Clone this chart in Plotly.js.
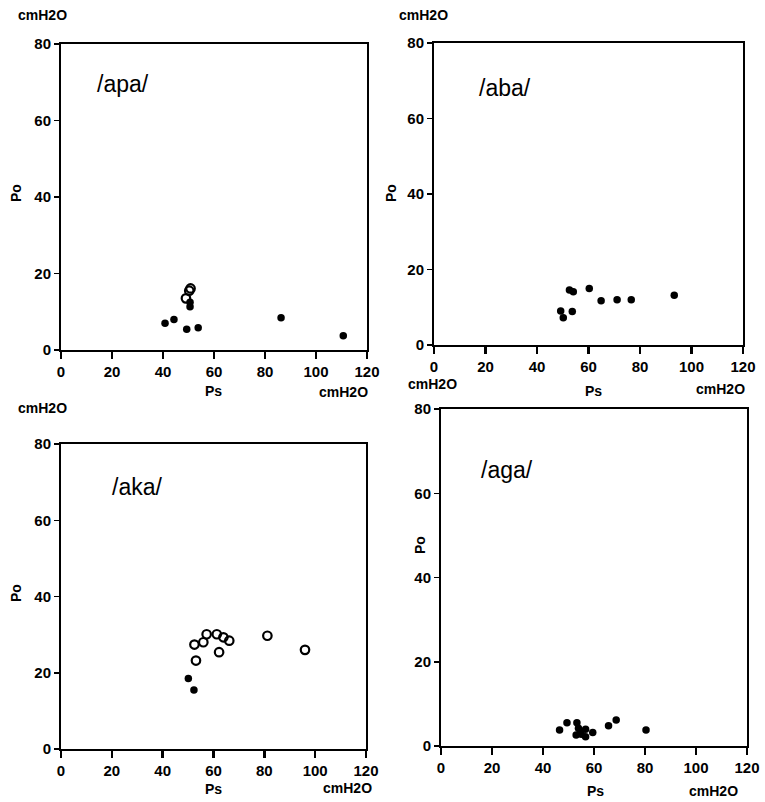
<!DOCTYPE html>
<html>
<head>
<meta charset="utf-8">
<script src="https://cdn.plot.ly/plotly-3.0.1.min.js"></script>
<style>html,body{margin:0;padding:0;background:#fff;}#chart{width:765px;height:802px;}</style>
</head>
<body>
<div id="chart"></div>
<script>
// ---- Data (Ps, Po in cmH2O) ----
var apaFilledPs = [40.8, 44.3, 49.3, 53.8, 86.3, 110.7, 50.6, 50.6];
var apaFilledPo = [7.0, 8.0, 5.4, 5.8, 8.4, 3.7, 12.5, 11.3];
var apaOpenPs = [50.8, 50.3, 49.0];
var apaOpenPo = [16.1, 15.5, 13.5];

var abaFilledPs = [52.6, 54.1, 60.3, 64.9, 71.1, 76.6, 93.3, 49.2, 50.2, 53.7];
var abaFilledPo = [14.6, 14.1, 15.0, 11.7, 12.0, 12.0, 13.2, 9.0, 7.2, 8.9];

var akaFilledPs = [50.1, 52.3];
var akaFilledPo = [18.5, 15.5];
var akaOpenPs = [53.1, 52.5, 56.0, 57.3, 61.3, 63.9, 66.2, 62.2, 81.2, 96.0];
var akaOpenPo = [23.2, 27.4, 28.0, 30.1, 30.1, 29.3, 28.4, 25.4, 29.7, 26.0];

var agaFilledPs = [46.5, 49.4, 53.3, 53.9, 53.0, 54.7, 56.7, 56.7, 55.0, 59.5, 65.7, 68.7, 80.4];
var agaFilledPo = [3.8, 5.5, 5.5, 4.2, 2.6, 3.4, 4.0, 2.2, 2.8, 3.2, 4.8, 6.2, 3.8];

var panelLabels = ['/apa/', '/aba/', '/aka/', '/aga/'];
var xTickVals = [0, 20, 40, 60, 80, 100, 120];
var yTickVals = [0, 20, 40, 60, 80];
var unitLabel = 'cmH2O';
var xName = 'Ps';
var yName = 'Po';

// ---- Layout helpers ----
var W = 765, H = 802;
function px(x) { return x / W; }
function py(y) { return 1 - y / H; }

// panel boxes in pixels: left, right, top, bottom
var boxes = [
  {l: 61, r: 367, t: 44, b: 350},
  {l: 434, r: 743, t: 43, b: 345},
  {l: 61, r: 366, t: 444, b: 749},
  {l: 441, r: 747, t: 409, b: 746}
];

var filledMarker = {symbol: 'circle', size: 7.5, color: '#000', line: {width: 0}};
var openMarker = {symbol: 'circle-open', size: 8.5, color: '#000', line: {width: 2.2, color: '#000'}};

function tr(xs, ys, i, m) {
  var s = i === 0 ? '' : String(i + 1);
  return {x: xs, y: ys, xaxis: 'x' + s, yaxis: 'y' + s, type: 'scatter', mode: 'markers', marker: m, hoverinfo: 'x+y', showlegend: false, cliponaxis: false};
}

var data = [
  tr(apaFilledPs, apaFilledPo, 0, filledMarker),
  tr(apaOpenPs, apaOpenPo, 0, openMarker),
  tr(abaFilledPs, abaFilledPo, 1, filledMarker),
  tr(akaFilledPs, akaFilledPo, 2, filledMarker),
  tr(akaOpenPs, akaOpenPo, 2, openMarker),
  tr(agaFilledPs, agaFilledPo, 3, filledMarker)
];

var tickFont = {family: 'Liberation Sans, Arial, sans-serif', size: 15, color: '#000', weight: 'bold'};

var layout = {
  width: W, height: H,
  margin: {l: 0, r: 0, t: 0, b: 0},
  paper_bgcolor: '#fff', plot_bgcolor: '#fff',
  showlegend: false,
  annotations: []
};

boxes.forEach(function (b, i) {
  var s = i === 0 ? '' : String(i + 1);
  layout['xaxis' + s] = {
    domain: [px(b.l), px(b.r)], anchor: 'y' + s,
    range: [0, 120], tickvals: xTickVals, ticktext: xTickVals.map(String),
    showgrid: false, zeroline: false, showline: true, linewidth: 2, linecolor: '#000', mirror: true,
    ticks: 'outside', ticklen: 7, tickwidth: 2.5, tickcolor: '#000',
    tickfont: tickFont, fixedrange: true
  };
  layout['yaxis' + s] = {
    domain: [py(b.b), py(b.t)], anchor: 'x' + s,
    range: [0, 80], tickvals: yTickVals, ticktext: yTickVals.map(String),
    showgrid: false, zeroline: false, showline: true, linewidth: 2, linecolor: '#000', mirror: true,
    ticks: 'outside', ticklen: 5, tickwidth: 1.5, tickcolor: '#000',
    tickfont: tickFont, fixedrange: true
  };
});

var txtFont = {family: 'Liberation Sans, Arial, sans-serif', size: 14, color: '#000', weight: 'bold'};
var lblFont = {family: 'Liberation Sans, Arial, sans-serif', size: 23, color: '#000'};

// text positions in pixels
var textPos = [
  {unitTop: [42, 15], po: [16, 193], ps: [213, 391], unitBot: [343, 392], lbl: [123, 84]},
  {unitTop: [423, 15], po: [391, 193], ps: [593, 391], unitBot: [720, 389], lbl: [505, 88]},
  {unitTop: [42, 408], po: [16, 593], ps: [213, 789], unitBot: [347, 788], lbl: [137, 487]},
  {unitTop: [432, 384], po: [420, 545], ps: [595, 791], unitBot: [713, 791], lbl: [507, 470]}
];

function ann(text, p, font, extra) {
  var a = {text: text, xref: 'paper', yref: 'paper', x: px(p[0]), y: py(p[1]),
           xanchor: 'center', yanchor: 'middle', showarrow: false, font: font};
  for (var k in extra) a[k] = extra[k];
  return a;
}

textPos.forEach(function (t, i) {
  layout.annotations.push(ann(unitLabel, t.unitTop, txtFont));
  layout.annotations.push(ann(yName, t.po, txtFont, {textangle: -90}));
  layout.annotations.push(ann(xName, t.ps, txtFont));
  layout.annotations.push(ann(unitLabel, t.unitBot, txtFont));
  layout.annotations.push(ann(panelLabels[i], t.lbl, lblFont));
});

Plotly.newPlot('chart', data, layout, {staticPlot: true, displayModeBar: false});
</script>
</body>
</html>
